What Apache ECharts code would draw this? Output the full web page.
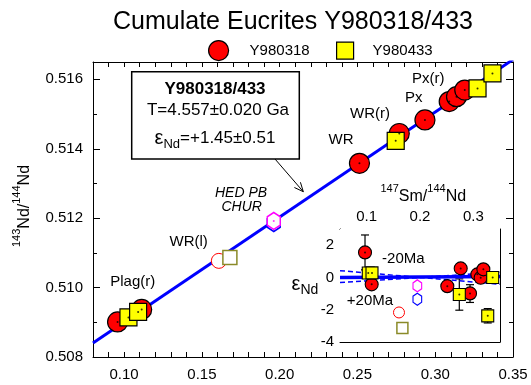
<!DOCTYPE html>
<html><head><meta charset="utf-8">
<script src="https://cdn.jsdelivr.net/npm/echarts@6/dist/echarts.min.js"></script>
<style>html,body{margin:0;padding:0;background:#fff}#c{width:531px;height:385px}</style>
</head><body><div id="c"></div>
<script>
// ---------- main isochron data ----------
const isoX = [0.08, 0.35];
const isoY = [0.50840, 0.51657];
const y318X = [0.0958, 0.1113, 0.2513, 0.2769, 0.2934, 0.3090, 0.3137, 0.3190];
const y318Y = [0.50901, 0.50937, 0.51358, 0.51444, 0.51483, 0.51536, 0.51550, 0.51569];
const y433X = [0.1028, 0.1090, 0.2746, 0.3272, 0.3368];
const y433Y = [0.50914, 0.50930, 0.51423, 0.51574, 0.51617];
const wrl318X = [0.1609], wrl318Y = [0.51077];
const wrl433X = [0.1680], wrl433Y = [0.51087];
const churMX = [0.1962], churMY = [0.51192];
const churBX = [0.1962], churBY = [0.51186];
// ---------- inset (epsilon Nd) data ----------
const e318X = [0.0969, 0.1094, 0.2512, 0.2763, 0.2938, 0.3075, 0.3138, 0.3188];
const e318Y = [1.55, -0.43, -0.54, 0.56, -0.99, 0.19, -0.02, 0.50];
const e433X = [0.1030, 0.1100, 0.2737, 0.3270, 0.3363];
const e433Y = [0.27, 0.28, -1.06, -2.38, 0.00];
const eWrl318X = [0.1606], eWrl318Y = [-2.17];
const eWrl433X = [0.1670], eWrl433Y = [-3.13];
const eChurMX = [0.1950], eChurMY = [-0.52];
const eChurBX = [0.1950], eChurBY = [-1.35];
const errX  = [0.0969, 0.2737, 0.2938, 0.3270];
const errLo = [0.47, -2.03, -1.55, -2.82];
const errHi = [2.63, -0.09, -0.45, -1.93];
const refX = [0.05, 0.35];
const refY = [0.00, 0.05];
const m20Y = [0.42, -0.42];
const p20Y = [-0.32, 0.32];
// tick labels
const mainXLabels = [0.10, 0.15, 0.20, 0.25, 0.30, 0.35];
const mainYLabels = [0.508, 0.510, 0.512, 0.514, 0.516];
const insetXLabels = [0.1, 0.2, 0.3];
const insetYLabels = [-4, -2, 0, 2];

const zip = (a, b) => a.map((v, i) => [v, b[i]]);
const FONT = '"Liberation Sans", Arial, sans-serif';
const HEX = 'path://M0,-10L8.66,-5L8.66,5L0,10L-8.66,5L-8.66,-5Z';
const RED = '#ff0000', YEL = '#ffff00', BLUE = '#0000ff', MAG = '#ff00ff', OLIVE = '#8a8a28';
const near = (v, list) => list.some(t => Math.abs(v - t) < 1e-7);

function ax(o) {
  const base = {
    type: 'value', splitLine: {show: false},
    axisLine: {show: true, onZero: false, lineStyle: {color: '#000', width: 1}},
    axisTick: {show: true, inside: true, length: 5, lineStyle: {color: '#000', width: 1}},
    axisLabel: {show: false}
  };
  return Object.assign(base, o);
}
const lblStyle = {color: '#000', fontFamily: FONT, fontSize: 15};

const xAxis = [
  ax({gridIndex: 0, position: 'bottom', min: 0.08, max: 0.35, interval: 0.01,
      axisLabel: Object.assign({show: true, interval: 0, margin: 10, hideOverlap: false,
        formatter: v => near(v, mainXLabels) ? v.toFixed(2) : ''}, lblStyle)}),
  ax({gridIndex: 0, position: 'top', min: 0.08, max: 0.35, interval: 0.01}),
  ax({gridIndex: 1, position: 'top', min: 0.05, max: 0.35, interval: 0.05,
      axisLabel: Object.assign({show: true, interval: 0, margin: 5, hideOverlap: false,
        formatter: v => near(v, insetXLabels) ? v.toFixed(1) : ''}, lblStyle)}),
  ax({gridIndex: 1, position: 'bottom', min: 0.05, max: 0.35, interval: 0.05})
];
const yAxis = [
  ax({gridIndex: 0, position: 'left', min: 0.508, max: 0.5165, interval: 0.002,
      axisTick: {show: true, inside: true, length: 7, lineStyle: {color: '#000'}},
      axisLabel: Object.assign({show: true, margin: 10, showMaxLabel: true,
        formatter: v => near(v, mainYLabels) ? v.toFixed(3) : ''}, lblStyle)}),
  ax({gridIndex: 0, position: 'left', min: 0.508, max: 0.5165, interval: 0.001, axisLine: {show: false},
      axisTick: {show: true, inside: true, length: 4, lineStyle: {color: '#000'}}}),
  ax({gridIndex: 0, position: 'right', min: 0.508, max: 0.5165, interval: 0.002,
      axisTick: {show: true, inside: true, length: 7, lineStyle: {color: '#000'}}}),
  ax({gridIndex: 0, position: 'right', min: 0.508, max: 0.5165, interval: 0.001, axisLine: {show: false},
      axisTick: {show: true, inside: true, length: 4, lineStyle: {color: '#000'}}}),
  ax({gridIndex: 1, position: 'left', min: -4, max: 3, interval: 2,
      axisTick: {show: true, inside: true, length: 7, lineStyle: {color: '#000'}},
      axisLabel: Object.assign({show: true, margin: 6,
        formatter: v => near(v, insetYLabels) ? String(v) : ''}, lblStyle)}),
  ax({gridIndex: 1, position: 'left', min: -4, max: 3, interval: 1, axisLine: {show: false},
      axisTick: {show: true, inside: true, length: 4, lineStyle: {color: '#000'}}}),
  ax({gridIndex: 1, position: 'right', min: -4, max: 3, interval: 2,
      axisTick: {show: true, inside: true, length: 7, lineStyle: {color: '#000'}}}),
  ax({gridIndex: 1, position: 'right', min: -4, max: 3, interval: 1, axisLine: {show: false},
      axisTick: {show: true, inside: true, length: 4, lineStyle: {color: '#000'}}})
];

function sc(name, data, xi, yi, symbol, size, fill, border, bw, z) {
  return {type: 'scatter', name, data, xAxisIndex: xi, yAxisIndex: yi, symbol, symbolSize: size,
    symbolKeepAspect: true, silent: true, z: z || 3,
    itemStyle: {color: fill, borderColor: border, borderWidth: bw, opacity: 1}};
}
function dots(data, xi, yi, color, z) {
  return {type: 'scatter', data, xAxisIndex: xi, yAxisIndex: yi, symbol: 'circle', symbolSize: 2,
    silent: true, z: z || 5, itemStyle: {color, borderWidth: 0}};
}
function ln(data, xi, yi, color, width, type, z) {
  return {type: 'line', data, xAxisIndex: xi, yAxisIndex: yi, symbol: 'none', silent: true, clip: true,
    z: z || 2, lineStyle: {color, width, type}};
}

const series = [
  // main
  ln(zip(isoX, isoY), 0, 0, BLUE, 3, 'solid', 2),
  sc('Y980318', zip(y318X, y318Y), 0, 0, 'circle', 20, RED, '#000', 1.2, 3),
  sc('Y980433', zip(y433X, y433Y), 0, 0, 'rect', 17, YEL, '#000', 1.2, 4),
  sc('WR(l) 318', zip(wrl318X, wrl318Y), 0, 0, 'circle', 15, '#fff', RED, 1, 3),
  sc('WR(l) 433', zip(wrl433X, wrl433Y), 0, 0, 'rect', 14, '#fff', OLIVE, 1.5, 3),
  sc('CHUR b', zip(churBX, churBY), 0, 0, HEX, [15, 17], '#fff', BLUE, 1.5, 3),
  sc('CHUR m', zip(churMX, churMY), 0, 0, HEX, [15, 17], '#fff', MAG, 1.5, 4),
  dots(zip(y318X, y318Y).concat(zip(y433X, y433Y)), 0, 0, '#000', 5),
  dots(zip(churMX, churMY), 0, 0, MAG, 5),
  // inset
  ln(zip(refX, m20Y), 2, 4, BLUE, 1.5, [5, 3], 2),
  ln(zip(refX, p20Y), 2, 4, BLUE, 1.5, [5, 3], 2),
  ln(zip(refX, refY), 2, 4, BLUE, 3.5, 'solid', 2),
  {type: 'custom', xAxisIndex: 2, yAxisIndex: 4, silent: true, z: 2,
   data: errX.map((x, i) => [x, errLo[i], errHi[i]]),
   renderItem: (params, api) => {
     const p1 = api.coord([api.value(0), api.value(1)]);
     const p2 = api.coord([api.value(0), api.value(2)]);
     const w = 4, st = {stroke: '#000', lineWidth: 1.2};
     return {type: 'group', children: [
       {type: 'line', shape: {x1: p1[0], y1: p1[1], x2: p2[0], y2: p2[1]}, style: st},
       {type: 'line', shape: {x1: p1[0] - w, y1: p1[1], x2: p1[0] + w, y2: p1[1]}, style: st},
       {type: 'line', shape: {x1: p2[0] - w, y1: p2[1], x2: p2[0] + w, y2: p2[1]}, style: st}
     ]};
   }},
  sc('e318', zip(e318X, e318Y), 2, 4, 'circle', 13, RED, '#000', 1.1, 3),
  sc('e433', zip(e433X, e433Y), 2, 4, 'rect', 12, YEL, '#000', 1.1, 4),
  sc('eWrl318', zip(eWrl318X, eWrl318Y), 2, 4, 'circle', 11, '#fff', RED, 1, 3),
  sc('eWrl433', zip(eWrl433X, eWrl433Y), 2, 4, 'rect', 11, '#fff', OLIVE, 1.5, 3),
  sc('eChurM', zip(eChurMX, eChurMY), 2, 4, HEX, [10, 12], '#fff', MAG, 1.2, 3),
  sc('eChurB', zip(eChurBX, eChurBY), 2, 4, HEX, [10, 12], '#fff', BLUE, 1.2, 3),
  dots(zip(e318X, e318Y).concat(zip(e433X, e433Y)), 2, 4, '#000', 5)
];

// arrow geometry (annotation)
const aS = [275, 159], aE = [303.3, 191.7];
const dx = aE[0] - aS[0], dy = aE[1] - aS[1], L = Math.hypot(dx, dy);
const ux = dx / L, uy = dy / L, hl = 9, hw = 4;
const head = [[aE[0] - hl * ux + hw * uy, aE[1] - hl * uy - hw * ux], aE, [aE[0] - hl * ux - hw * uy, aE[1] - hl * uy + hw * ux]];

const txt = (x, y, text, extra) => ({type: 'text', x, y, z: 20, silent: true,
  style: Object.assign({text, fill: '#000', font: '15px ' + FONT, align: 'center', verticalAlign: 'middle'}, extra || {})});

const graphic = [
  txt(293, 22, 'Cumulate Eucrites Y980318/433', {font: '25px ' + FONT}),
  // annotation box
  {type: 'rect', shape: {x: 131.7, y: 71.7, width: 167.6, height: 87.3}, z: 19, silent: true,
   style: {fill: '#fff', stroke: '#000', lineWidth: 1.5}},
  txt(215, 89, 'Y980318/433', {font: 'bold 17px ' + FONT}),
  txt(218, 110, 'T=4.557±0.020 Ga', {font: '17px ' + FONT}),
  {type: 'text', x: 215, y: 138, z: 20, silent: true,
   style: {text: '{e|ε}{s|Nd}{n|=+1.45±0.51}', align: 'center', verticalAlign: 'middle', fill: '#000',
     rich: {e: {fontSize: 20, fontFamily: FONT, lineHeight: 26, verticalAlign: 'middle'},
            s: {fontSize: 13, fontFamily: FONT, lineHeight: 26, verticalAlign: 'bottom'},
            n: {fontSize: 17, fontFamily: FONT, lineHeight: 26, verticalAlign: 'middle'}}}},
  {type: 'polyline', shape: {points: [aS, aE]}, z: 20, silent: true, style: {stroke: '#000', lineWidth: 1}},
  {type: 'polyline', shape: {points: head}, z: 20, silent: true, style: {stroke: '#000', lineWidth: 1, fill: null}},
  // point labels
  txt(132.7, 282, 'Plag(r)'),
  txt(188.7, 241.7, 'WR(l)'),
  txt(341, 140, 'WR'),
  txt(370, 114, 'WR(r)'),
  txt(413.7, 98.3, 'Px'),
  txt(428.3, 79.3, 'Px(r)'),
  txt(241, 192.7, 'HED PB', {font: 'italic 14px ' + FONT}),
  txt(241.7, 206.7, 'CHUR', {font: 'italic 14px ' + FONT}),
  // inset labels
  {type: 'text', x: 423.3, y: 194, z: 20, silent: true,
   style: {text: '{p|147}{b|Sm/}{p|144}{b|Nd}', align: 'center', verticalAlign: 'middle', fill: '#000',
     rich: {p: {fontSize: 11, fontFamily: FONT, lineHeight: 22, verticalAlign: 'top'},
            b: {fontSize: 16, fontFamily: FONT, lineHeight: 22, verticalAlign: 'bottom'}}}},
  txt(403.3, 259, '-20Ma'),
  txt(370, 300.7, '+20Ma'),
  {type: 'text', x: 305, y: 284, z: 20, silent: true,
   style: {text: '{e|ε}{s|Nd}', align: 'center', verticalAlign: 'middle', fill: '#000',
     rich: {e: {fontSize: 20, fontFamily: FONT, lineHeight: 26, verticalAlign: 'middle'},
            s: {fontSize: 14, fontFamily: FONT, lineHeight: 26, verticalAlign: 'bottom'}}}},
  // main y-axis name
  {type: 'text', x: 22, y: 206, rotation: Math.PI / 2, z: 20, silent: true,
   style: {text: '{p|143}{b|Nd/}{p|144}{b|Nd}', align: 'center', verticalAlign: 'middle', fill: '#000',
     rich: {p: {fontSize: 11, fontFamily: FONT, lineHeight: 22, verticalAlign: 'top'},
            b: {fontSize: 16, fontFamily: FONT, lineHeight: 22, verticalAlign: 'bottom'}}}}
];

const legend = [
  {data: ['Y980318'], left: 203, top: 35, icon: 'circle', itemWidth: 20, itemHeight: 20, selectedMode: false,
   itemStyle: {color: RED, borderColor: '#000', borderWidth: 1.2},
   textStyle: {fontFamily: FONT, fontSize: 15, color: '#000', padding: [0, 0, 0, 16]}},
  {data: ['Y980433'], left: 331, top: 36.5, icon: 'rect', itemWidth: 17, itemHeight: 17, selectedMode: false,
   itemStyle: {color: YEL, borderColor: '#000', borderWidth: 1.2},
   textStyle: {fontFamily: FONT, fontSize: 15, color: '#000', padding: [0, 0, 0, 14]}}
];

const chart = echarts.init(document.getElementById('c'), null, {renderer: 'canvas'});
chart.setOption({
  animation: false,
  backgroundColor: '#fff',
  grid: [
    {left: 93, right: 18, top: 62, bottom: 28, containLabel: false},
    {left: 340, right: 31, top: 229, bottom: 43, containLabel: false, show: true, backgroundColor: '#fff', borderWidth: 0, z: 1}
  ],
  legend, xAxis, yAxis, series, graphic
});
</script></body></html>
